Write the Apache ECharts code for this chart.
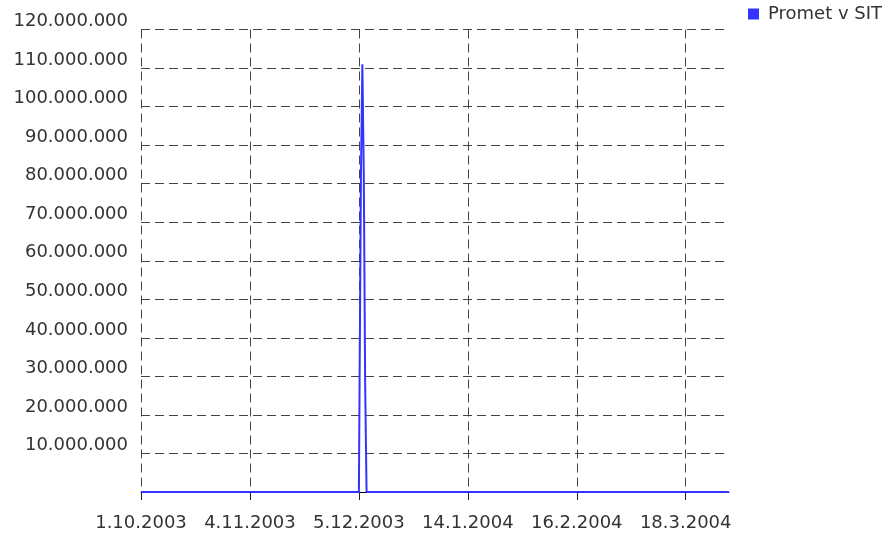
<!DOCTYPE html>
<html>
<head>
<meta charset="utf-8">
<script src="https://cdn.jsdelivr.net/npm/echarts@6/dist/echarts.min.js"></script>
<style>html,body{margin:0;padding:0;background:#fff}#c{width:891px;height:535px}</style>
</head>
<body>
<div id="c"></div>
<script>
// Tick labels shown on the x axis (every labelStep-th sample)
const dateLabels = ['1.10.2003', '4.11.2003', '5.12.2003', '14.1.2004', '16.2.2004', '18.3.2004'];
const labelStep = 78;      // samples between date labels
const sampleCount = 422;   // samples spanned by the axis
// Series: [sample index, value] – zero everywhere except the December spike
const seriesName = 'Promet v SIT';
const sampleIndex = [0, 156, 157, 158, 159, 160, 161, 162, 421];
const sampleValue = [0, 0, 28000000, 83000000, 111000000, 83000000, 28000000, 0, 0];
// Y axis ticks
const yMin = 0, yMax = 120000000, yStep = 10000000;

const categories = [];
for (let i = 0; i < sampleCount; i++) {
  categories.push(i % labelStep === 0 ? (dateLabels[i / labelStep] || '') : '');
}
const data = sampleIndex.map((x, i) => [x, sampleValue[i]]);
const fmt = v => String(Math.round(v)).replace(/\B(?=(\d{3})+(?!\d))/g, '.');

const FONT = 'DejaVu Sans';
const chart = echarts.init(document.getElementById('c'), null, {renderer: 'canvas'});
chart.setOption({
  animation: false,
  backgroundColor: '#ffffff',
  textStyle: {fontFamily: FONT},
  legend: {
    data: [seriesName],
    left: 748, top: 5, padding: 0,
    icon: 'rect', itemWidth: 11, itemHeight: 11,
    textStyle: {fontFamily: FONT, fontSize: 18, color: '#333', padding: [0, 0, 0, 4]}
  },
  grid: {left: 141, right: 162, top: 29.5, bottom: 43, containLabel: false},
  xAxis: {
    type: 'category',
    data: categories,
    boundaryGap: false,
    axisLine: {show: true, lineStyle: {color: '#000', width: 1}},
    axisTick: {show: true, interval: labelStep - 1, length: 8, lineStyle: {color: '#222'}},
    axisLabel: {interval: labelStep - 1, margin: 22, fontFamily: FONT, fontSize: 18, color: '#333'},
    splitLine: {show: true, interval: labelStep - 1, lineStyle: {color: '#444', type: [9, 5], width: 1}}
  },
  yAxis: {
    type: 'value',
    min: yMin, max: yMax, interval: yStep,
    axisLine: {show: false},
    axisTick: {show: false},
    axisLabel: {
      showMinLabel: false, margin: 13, fontFamily: FONT, fontSize: 18, color: '#333',
      verticalAlign: 'bottom', lineHeight: 16,
      formatter: v => fmt(v)
    },
    splitLine: {show: true, lineStyle: {color: '#444', type: [9, 5], width: 1}}
  },
  series: [{
    name: seriesName,
    type: 'line',
    step: 'middle',
    data: data,
    showSymbol: false,
    symbol: 'none',
    itemStyle: {color: '#3333ff'},
    lineStyle: {color: '#3333ff', width: 2}
  }]
});
</script>
</body>
</html>
